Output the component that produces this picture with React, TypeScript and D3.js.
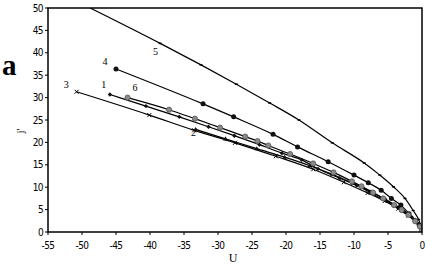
import React from "react";
import * as d3 from "d3";

const xTicks = [-55, -50, -45, -40, -35, -30, -25, -20, -15, -10, -5, 0];
const yTicks = [0, 5, 10, 15, 20, 25, 30, 35, 40, 45, 50];

const s5U = [-48.8, -38.5, -32.5, -27.3, -22.4, -18.1, -13.2, -8.5, -6.2, -4.2, -2.5, -1.3, -0.5, 0];
const s5J = [50, 42.1, 37.3, 33.0, 28.8, 25.0, 19.9, 15.4, 12.7, 10.1, 7.5, 4.8, 2.8, 0.8];

const s4U = [-45, -32.2, -27.7, -21.9, -18.3, -13.8, -10, -7.9, -6.0, -4.5, -3.1, -1.9, -1.0, -0.4, 0];
const s4J = [36.4, 28.6, 25.7, 21.8, 19.0, 15.7, 12.7, 11.0, 9.3, 7.5, 6.0, 4.1, 2.5, 1.5, 0.6];

const s1U = [-45.9, -40.6, -35.7, -31.4, -27.6, -23.9, -20.6, -17.7, -15.3, -12.1, -9.6, -7.6, -5.9, -4.2, -2.6, -1.5, -0.8, -0.1];
const s1J = [30.7, 28.1, 25.7, 23.5, 21.5, 19.5, 17.6, 16.1, 14.1, 12.0, 10.4, 8.8, 7.4, 5.9, 4.5, 3.3, 2.1, 0.7];

const s6U = [-43.3, -37.2, -33.4, -29.7, -26, -24.2, -22.6, -19.4, -16, -13, -10.3, -8.9, -7.2, -5.7, -4.1, -3, -2, -1, -0.3, 0];
const s6J = [30.0, 27.3, 25.3, 23.3, 21.3, 20.3, 19.3, 17.4, 15.3, 13.3, 11.3, 10.2, 8.8, 7.5, 6.0, 4.9, 3.8, 2.4, 1.2, 0.3];

const s3U = [-50.8, -40.1, -33.5, -27.5, -21.5, -16, -11.5, -8, -5.5, -3.5, -2, -1, -0.3, 0];
const s3J = [31.3, 26.1, 22.7, 19.9, 16.9, 14.0, 11.1, 8.7, 6.9, 5.2, 3.7, 2.5, 1.4, 0.4];

const s2U = [-33.3, -28.9, -24.3, -20.2, -16.5, -13.2, -10.2, -7.5, -5.3, -3.4, -2.0, -1.0, -0.3, 0];
const s2J = [22.9, 20.8, 18.6, 16.7, 14.8, 12.9, 10.9, 9.0, 7.2, 5.5, 4.0, 2.7, 1.5, 0.4];

const labels = ["5", "4", "3", "1", "6", "2"];
const labelU = [-39.2, -46.6, -52.3, -46.8, -42.2, -33.6];
const labelJ = [39.5, 37.3, 32.2, 32.1, 31.4, 21.4];

const W = 435, H = 268;
const L = 48, R = 422, T = 8, B = 232;

export default function App() {
  const x = d3.scaleLinear().domain([-55, 0]).range([L, R]);
  const y = d3.scaleLinear().domain([0, 50]).range([B, T]);
  const line = d3
    .line<[number, number]>()
    .x((d) => x(d[0]))
    .y((d) => y(d[1]))
    .curve(d3.curveMonotoneX);
  const pts = (u: number[], j: number[]) => u.map((v, i) => [v, j[i]] as [number, number]);

  const series = [
    { u: s5U, j: s5J, m: "dash" },
    { u: s4U, j: s4J, m: "circle" },
    { u: s3U, j: s3J, m: "x" },
    { u: s2U, j: s2J, m: "tri" },
    { u: s1U, j: s1J, m: "diamond" },
    { u: s6U, j: s6J, m: "gray" },
  ];

  const marker = (m: string, cx: number, cy: number, k: string) => {
    switch (m) {
      case "dash":
        return <line key={k} x1={cx - 1.5} x2={cx + 1.5} y1={cy} y2={cy} stroke="#000" strokeWidth={1.5} />;
      case "circle":
        return <circle key={k} cx={cx} cy={cy} r={2.5} fill="#111" />;
      case "x":
        return (
          <path key={k} d={`M${cx - 2},${cy - 2}L${cx + 2},${cy + 2}M${cx - 2},${cy + 2}L${cx + 2},${cy - 2}`} stroke="#000" strokeWidth={1} />
        );
      case "tri":
        return <path key={k} d={`M${cx},${cy - 2.5}L${cx + 2.3},${cy + 1.6}L${cx - 2.3},${cy + 1.6}Z`} fill="#111" />;
      case "diamond":
        return <path key={k} d={`M${cx},${cy - 2.2}L${cx + 2.2},${cy}L${cx},${cy + 2.2}L${cx - 2.2},${cy}Z`} fill="#111" />;
      default:
        return <circle key={k} cx={cx} cy={cy} r={2.6} fill="#8a8a8a" stroke="#555" strokeWidth={0.8} />;
    }
  };

  return (
    <svg width={W} height={H} style={{ position: "absolute", left: 0, top: 0, background: "#fff" }}>
      <defs>
        <clipPath id="plot">
          <rect x={L} y={T} width={R - L} height={B - T} />
        </clipPath>
      </defs>
      <rect x={0} y={0} width={W} height={H} fill="#fff" />
      <g clipPath="url(#plot)">
        {series.map((s, i) => (
          <path key={i} d={line(pts(s.u, s.j)) || ""} fill="none" stroke="#000" strokeWidth={1.2} />
        ))}
        {series.map((s, i) =>
          s.u.map((v, k) => (i === 0 && k === 0 ? null : marker(s.m, x(v), y(s.j[k]), `${i}-${k}`)))
        )}
      </g>
      <rect x={L} y={T} width={R - L} height={B - T} fill="none" stroke="#000" strokeWidth={1.5} />
      {xTicks.map((t) => (
        <g key={"x" + t}>
          <line x1={x(t)} x2={x(t)} y1={B} y2={B + 3} stroke="#000" strokeWidth={1} />
          <text x={x(t)} y={B + 17} textAnchor="middle" fontSize={10} fontFamily="'DejaVu Sans Condensed', 'DejaVu Sans', sans-serif" letterSpacing={-0.6}>
            {t}
          </text>
        </g>
      ))}
      {yTicks.map((t) => (
        <g key={"y" + t}>
          <line x1={L - 3} x2={L} y1={y(t)} y2={y(t)} stroke="#000" strokeWidth={1} />
          <text x={L - 5} y={y(t) + 3.5} textAnchor="end" fontSize={10} fontFamily="'DejaVu Sans Condensed', 'DejaVu Sans', sans-serif" letterSpacing={-0.6}>
            {t}
          </text>
        </g>
      ))}
      {labels.map((l, i) => (
        <text key={"l" + l} x={x(labelU[i])} y={y(labelJ[i])} textAnchor="middle" fontSize={10} fill="#000" fontFamily="'Liberation Serif', serif">
          {l}
        </text>
      ))}
      <text x={233} y={262} textAnchor="middle" fontSize={12} fontFamily="'Liberation Serif', serif">
        U
      </text>
      <text transform="translate(24,131) rotate(-90)" textAnchor="middle" fontSize={11} fontFamily="'Liberation Serif', serif">
        j'
      </text>
      <text x={2} y={75} fontSize={29} fontWeight="bold" fontFamily="'Liberation Serif', serif">
        a
      </text>
    </svg>
  );
}
